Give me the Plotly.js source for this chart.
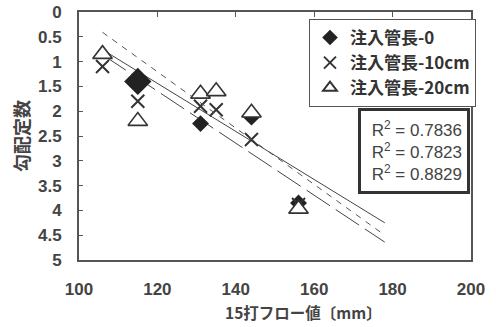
<!DOCTYPE html>
<html>
<head>
<meta charset="utf-8">
<script src="https://cdn.plot.ly/plotly-3.0.1.min.js"></script>
<style>html,body{margin:0;padding:0;background:#fff;}#chart{width:496px;height:327px;}</style>
</head>
<body>
<div id="chart"></div>
<script>
// ---- data ----
var seriesNames = ["注入管長-0", "注入管長-10cm", "注入管長-20cm"];
var x0 = [115, 131, 144, 156];
var y0 = [1.4, 2.25, 2.12, 3.85];
var x1 = [106, 115, 131, 135, 144, 156];
var y1 = [1.1, 1.8, 1.9, 1.97, 2.57, 3.88];
var x2 = [106, 115, 131, 135, 144, 156];
var y2 = [0.85, 2.2, 1.65, 1.6, 2.03, 3.97];
// trend lines (approximate end values)
var trendX = [106, 178];
var trendSolid = [0.76, 4.25];
var trendLong = [0.86, 4.64];
var trendDash = [0.41, 4.5];
var rSquared = ["0.7836", "0.7823", "0.8829"];
var xTickVals = [100, 120, 140, 160, 180, 200];
var yTickVals = [0, 0.5, 1, 1.5, 2, 2.5, 3, 3.5, 4, 4.5, 5];

var ink = '#333';
var traces = [
  {x: trendX, y: trendSolid, mode: 'lines', line: {color: '#444', width: 1}, showlegend: false, hoverinfo: 'skip'},
  {x: trendX, y: trendLong, mode: 'lines', line: {color: '#444', width: 1, dash: '28px,7px'}, showlegend: false, hoverinfo: 'skip'},
  {x: trendX, y: trendDash, xaxis: 'x2', mode: 'lines', line: {color: '#555', width: 1, dash: '6px,6px'}, showlegend: false, hoverinfo: 'skip'},
  {x: x0, y: y0, name: seriesNames[0], mode: 'markers', type: 'scatter',
   marker: {symbol: 'diamond', size: [21, 13, 13, 13], opacity: 1, color: '#222', line: {width: 0}}},
  {x: x1, y: y1, name: seriesNames[1], mode: 'markers', type: 'scatter',
   marker: {symbol: 'x-thin-open', size: 13, color: ink, line: {width: 2, color: ink}}},
  {x: x2, y: y2, name: seriesNames[2], mode: 'markers', type: 'scatter',
   marker: {symbol: 'triangle-up', size: 17, color: '#fff', line: {width: 1.6, color: ink}}}
];

var tickFont = {family: 'Liberation Sans, Arial, sans-serif', size: 17, color: '#444', weight: 700};
var L = 79, R = 471, T = 12, B = 260;
var W = R - L, H = B - T;
function px(xp) { return (xp - L) / W; }
function py(yp) { return 1 - (yp - T) / H; }

var layout = {
  width: 496, height: 327,
  margin: {l: L, r: 496 - R, t: T, b: 327 - B},
  paper_bgcolor: '#fff', plot_bgcolor: '#fff',
  showlegend: true,
  xaxis: {
    range: [100, 200], tickvals: xTickVals, ticks: '', showgrid: false, zeroline: false,
    showline: true, linecolor: '#555', linewidth: 2, mirror: true,
    tickfont: tickFont, ticklabelstandoff: 13, fixedrange: true
  },
  xaxis2: {
    overlaying: 'x', side: 'top', range: [100, 200], tickvals: xTickVals,
    ticks: 'inside', ticklen: 5, tickwidth: 1, tickcolor: '#555',
    showticklabels: false, showgrid: false, zeroline: false, showline: false
  },
  yaxis: {
    range: [5, 0], tickvals: yTickVals, ticks: 'inside', ticklen: 4, tickcolor: '#555',
    showgrid: false, zeroline: false, showline: true, linecolor: '#555', linewidth: 2, mirror: true,
    tickfont: tickFont, ticklabelstandoff: 12,
    title: {text: '勾配定数', font: {family: 'Noto Sans CJK JP', size: 18, color: '#444', weight: 700}, standoff: 4}
  },
  legend: {
    x: px(309), y: py(19), xanchor: 'left', yanchor: 'top',
    bgcolor: '#fff', bordercolor: '#555', borderwidth: 1,
    font: {family: 'Noto Sans CJK JP, Liberation Sans', size: 17, color: ink, weight: 700},
    itemwidth: 30, itemsizing: 'constant', tracegroupgap: 0
  },
  shapes: [
    {type: 'rect', xref: 'paper', yref: 'paper', x0: px(314), x1: px(474), y0: py(105), y1: py(24),
     fillcolor: '#333', line: {width: 0}, layer: 'above'}
  ],
  annotations: [
    {xref: 'paper', yref: 'paper', x: px(470), y: py(108), xanchor: 'right', yanchor: 'top',
     text: rSquared.map(function (r) { return 'R<sup>2</sup> = ' + r; }).join('<br>'),
     align: 'right', showarrow: false, width: 96, height: 70, borderpad: 5,
     bordercolor: '#333', borderwidth: 3, bgcolor: '#fff',
     font: {family: 'Liberation Sans, Arial', size: 17, color: '#444'}},
    {xref: 'paper', yref: 'paper', x: px(303), y: py(312), xanchor: 'center', yanchor: 'middle',
     text: '15打フロー値〔mm〕', showarrow: false,
     font: {family: 'Noto Sans CJK JP', size: 15.5, color: '#444', weight: 700}},
    {xref: 'paper', yref: 'paper', x: px(255), y: py(321), xanchor: 'center', yanchor: 'top',
     text: '図－7　15打フロー値と勾配定数', showarrow: false,
     font: {family: 'Noto Sans CJK JP', size: 19, color: '#444', weight: 700}}
  ]
};

Plotly.newPlot('chart', traces, layout, {displayModeBar: false, staticPlot: true});
</script>
</body>
</html>
